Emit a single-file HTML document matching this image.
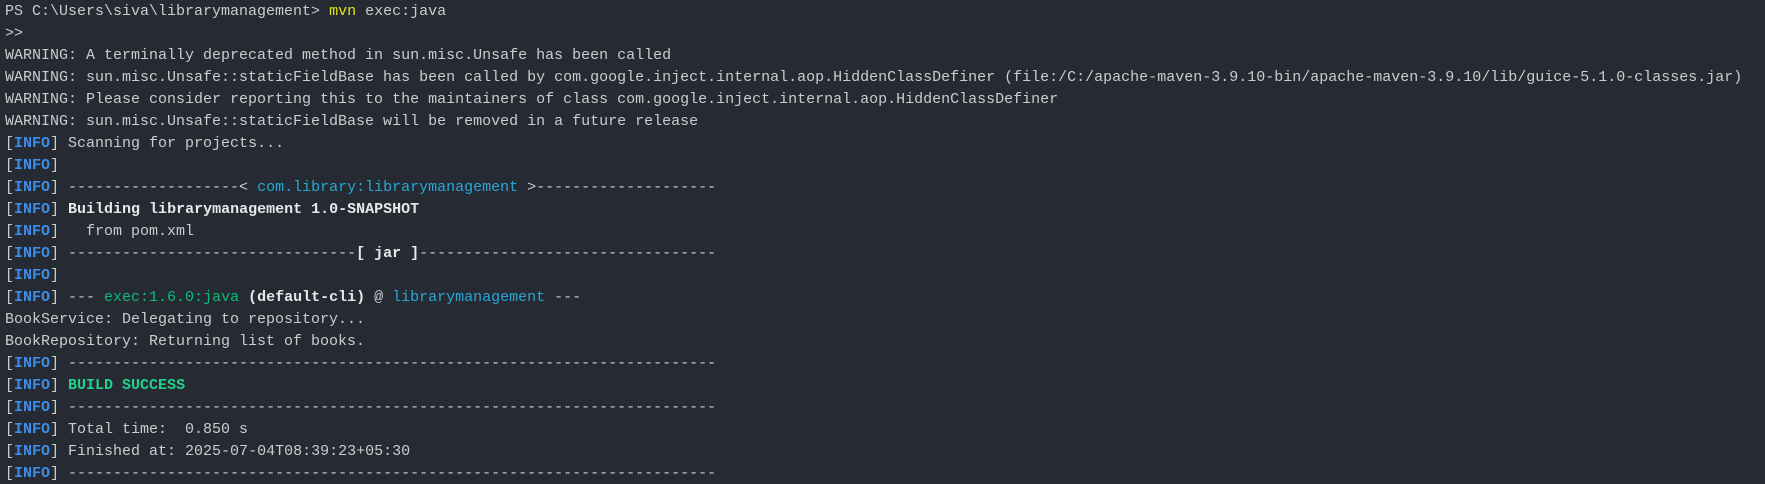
<!DOCTYPE html>
<html><head><meta charset="utf-8"><style>
html,body{margin:0;padding:0;background:#262a33;width:1765px;height:484px;overflow:hidden}
pre{margin:0;padding:1px 0 0 5px;font-family:"Liberation Mono",monospace;font-size:15px;line-height:22px;color:#cccccc;white-space:pre}
.i{color:#3b8eea;font-weight:bold}
.c{color:#29a8d6}
.g{color:#0dbc79}
.s{color:#23d18b;font-weight:bold}
.y{color:#e5e510}
b{color:#e8e8e8}
</style></head><body><pre>PS C:\Users\siva\librarymanagement&gt; <span class="y">mvn</span> exec:java
&gt;&gt;
WARNING: A terminally deprecated method in sun.misc.Unsafe has been called
WARNING: sun.misc.Unsafe::staticFieldBase has been called by com.google.inject.internal.aop.HiddenClassDefiner (file:/C:/apache-maven-3.9.10-bin/apache-maven-3.9.10/lib/guice-5.1.0-classes.jar)
WARNING: Please consider reporting this to the maintainers of class com.google.inject.internal.aop.HiddenClassDefiner
WARNING: sun.misc.Unsafe::staticFieldBase will be removed in a future release
[<span class="i">INFO</span>] Scanning for projects...
[<span class="i">INFO</span>]
[<span class="i">INFO</span>] -------------------&lt; <span class="c">com.library:librarymanagement</span> &gt;--------------------
[<span class="i">INFO</span>] <b>Building librarymanagement 1.0-SNAPSHOT</b>
[<span class="i">INFO</span>]   from pom.xml
[<span class="i">INFO</span>] --------------------------------<b>[ jar ]</b>---------------------------------
[<span class="i">INFO</span>]
[<span class="i">INFO</span>] --- <span class="g">exec:1.6.0:java</span> <b>(default-cli)</b> @ <span class="c">librarymanagement</span> ---
BookService: Delegating to repository...
BookRepository: Returning list of books.
[<span class="i">INFO</span>] ------------------------------------------------------------------------
[<span class="i">INFO</span>] <span class="s">BUILD SUCCESS</span>
[<span class="i">INFO</span>] ------------------------------------------------------------------------
[<span class="i">INFO</span>] Total time:  0.850 s
[<span class="i">INFO</span>] Finished at: 2025-07-04T08:39:23+05:30
[<span class="i">INFO</span>] ------------------------------------------------------------------------</pre></body></html>
